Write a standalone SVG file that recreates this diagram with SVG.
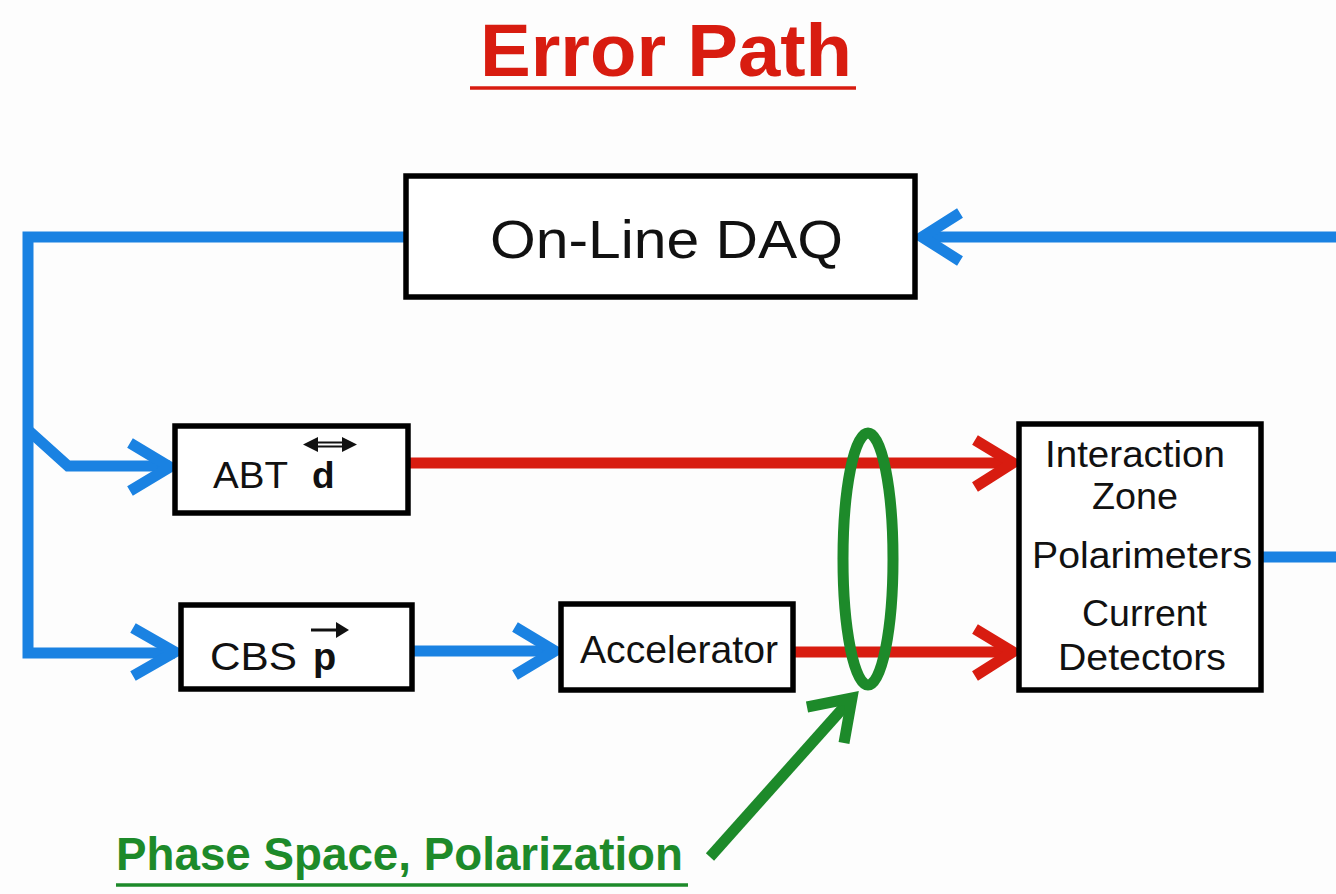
<svg xmlns="http://www.w3.org/2000/svg" width="1336" height="894" viewBox="0 0 1336 894">
<style>
.box{fill:#fff;stroke:#000;stroke-width:5.5}
.t{font-family:"Liberation Sans",Arial,sans-serif;fill:#111}
.blue{fill:none;stroke:#1a82e2;stroke-width:11;stroke-linejoin:miter}
.red{fill:none;stroke:#d81c10;stroke-width:11}
.green{fill:none;stroke:#1d8a2a;stroke-width:11}
</style>
<rect width="1336" height="894" fill="#fdfdfd"/>
<g id="title">
<text x="480" y="76" textLength="372" lengthAdjust="spacingAndGlyphs" class="t" style="font-size:74px;font-weight:bold;fill:#d81c10">Error Path</text>
<line x1="470" y1="88" x2="856" y2="88" stroke="#d81c10" stroke-width="3.5"/>
</g>
<g id="connectors">
<path class="blue" d="M405,237 H28 V653 H175"/>
<path class="blue" d="M28,430 L68,466 H170"/>
<path class="blue" d="M130,443 L170,467 L130,491"/>
<path class="blue" d="M133,628 L175,652 L133,676"/>
<path class="blue" d="M413,651 H555"/>
<path class="blue" d="M515,627 L555,651 L515,675"/>
<path class="blue" d="M1336,237 H922"/>
<path class="blue" d="M960,213 L922,237 L960,261"/>
<path class="blue" d="M1262,557 H1336"/>
<path class="red" d="M408,463 H1012"/>
<path class="red" d="M975,440 L1013,463 L975,487"/>
<path class="red" d="M795,652 H1012"/>
<path class="red" d="M975,629 L1013,652 L975,676"/>
</g>
<g id="daq">
<rect class="box" x="406" y="176" width="509" height="121"/>
<text x="490" y="258" textLength="353" lengthAdjust="spacingAndGlyphs" class="t" style="font-size:54px">On-Line DAQ</text>
</g>
<g id="abt">
<rect class="box" x="175" y="426" width="233" height="87"/>
<text x="213" y="488" textLength="75" lengthAdjust="spacingAndGlyphs" class="t" style="font-size:37px">ABT</text>
<text x="312" y="488" class="t" style="font-size:37px;font-weight:bold">d</text>
<path d="M314,442.5 H346 M314,446.5 H346" fill="none" stroke="#111" stroke-width="2"/>
<path d="M303,444.5 L318,437 L318,452 Z M357,444.5 L342,437 L342,452 Z" fill="#111"/>
</g>
<g id="cbs">
<rect class="box" x="181" y="605" width="231" height="84"/>
<text x="210" y="670" textLength="87" lengthAdjust="spacingAndGlyphs" class="t" style="font-size:39px">CBS</text>
<text x="313" y="670" class="t" style="font-size:38px;font-weight:bold">p</text>
<path d="M311,630 H340" fill="none" stroke="#111" stroke-width="3"/>
<path d="M349,630 L336,622 L336,638 Z" fill="#111"/>
</g>
<g id="accelerator">
<rect class="box" x="561" y="604" width="232" height="86"/>
<text x="580" y="663" textLength="198" lengthAdjust="spacingAndGlyphs" class="t" style="font-size:39px">Accelerator</text>
</g>
<g id="interaction">
<rect class="box" x="1019" y="424" width="242" height="266"/>
<g class="t" style="font-size:36px">
<text x="1045" y="467" textLength="180" lengthAdjust="spacingAndGlyphs">Interaction</text>
<text x="1092" y="509" textLength="86" lengthAdjust="spacingAndGlyphs">Zone</text>
<text x="1032" y="568" textLength="220" lengthAdjust="spacingAndGlyphs">Polarimeters</text>
<text x="1082" y="626" textLength="125" lengthAdjust="spacingAndGlyphs">Current</text>
<text x="1058" y="670" textLength="168" lengthAdjust="spacingAndGlyphs">Detectors</text>
</g>
</g>
<g id="phase-space">
<ellipse class="green" cx="868" cy="559" rx="25" ry="126"/>
<path class="green" d="M710,857 L852,698"/>
<path class="green" d="M807,707 L852,698 L844,743" stroke-linejoin="miter"/>
<text x="116" y="870" textLength="567" lengthAdjust="spacingAndGlyphs" class="t" style="font-size:46px;font-weight:bold;fill:#1d8a2a">Phase Space, Polarization</text>
<line x1="116" y1="885" x2="688" y2="885" stroke="#1d8a2a" stroke-width="3.5"/>
</g>
</svg>
